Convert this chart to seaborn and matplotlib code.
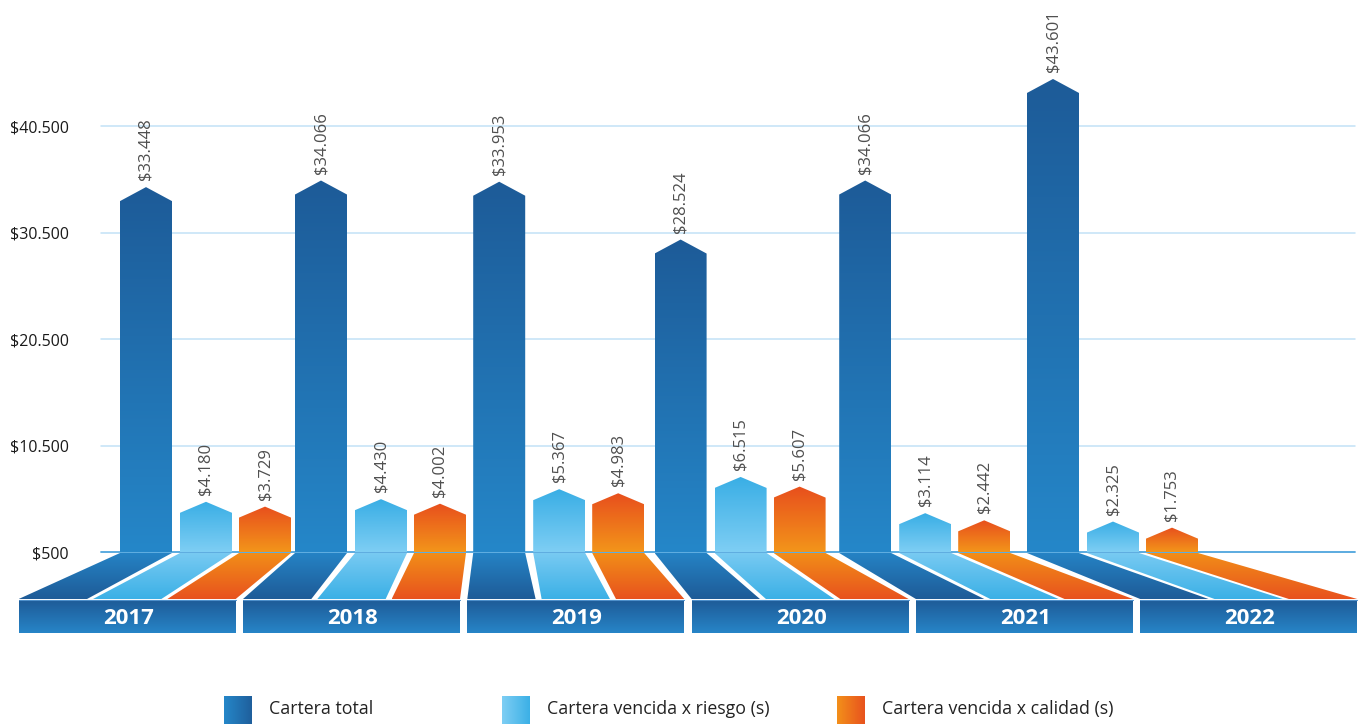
import numpy as np
import matplotlib
matplotlib.use("Agg")
import matplotlib.pyplot as plt
import seaborn as sns
from matplotlib.patches import Polygon
from matplotlib.colors import LinearSegmentedColormap

# ---------------------------------------------------------------- data
years = ["2017", "2018", "2019", "2020", "2021", "2022"]
cartera_total = [33448, 34066, 33953, 28524, 34066, 43601]
vencida_riesgo = [4180, 4430, 5367, 6515, 3114, 2325]
vencida_calidad = [3729, 4002, 4983, 5607, 2442, 1753]
series_names = ["Cartera total", "Cartera vencida x riesgo (s)",
                "Cartera vencida x calidad (s)"]
y_ticks = [500, 10500, 20500, 30500, 40500]

# ---------------------------------------------------------------- style
sns.set_theme(style="white")
plt.rcParams["font.family"] = ["Open Sans", "DejaVu Sans"]

# colours: (bar bottom, bar top), (ribbon bottom, ribbon top), (legend left, right)
bar_grad = [("#2587c9", "#1d5b98"), ("#7ecef4", "#39aee5"), ("#f3951a", "#e84f1d")]
rib_grad = [("#1e5b97", "#2583c5"), ("#3bb0e6", "#78caf2"), ("#e8521e", "#f28e18")]
leg_grad = [("#2587c9", "#1f5f9c"), ("#7ecef4", "#3bb0e6"), ("#f3901a", "#e8521e")]
band_grad = ("#2785c8", "#1e5b97")

W, H, DPI = 1364, 725, 100
fig = plt.figure(figsize=(W / DPI, H / DPI), dpi=DPI)
ax = fig.add_axes([0, 0, 1, 1])

# vertical scale: value units per pixel, baseline row of the chart
PX = 1 / 0.01065
BASE = 500
BASE_ROW = 552


def yv(row):
    """value on the y scale for a given pixel row of the canvas"""
    return BASE + (BASE_ROW - row) * PX


def gradient_poly(verts, c_start, c_end, horizontal=False, z=2):
    poly = Polygon(verts, closed=True, fc="none", ec="none", zorder=z)
    ax.add_patch(poly)
    xs = [v[0] for v in verts]
    ys = [v[1] for v in verts]
    ramp = np.linspace(0, 1, 256)
    arr = ramp.reshape(1, -1) if horizontal else ramp.reshape(-1, 1)
    cmap = LinearSegmentedColormap.from_list("g", [c_start, c_end])
    im = ax.imshow(arr, cmap=cmap, vmin=0, vmax=1, origin="lower",
                   extent=(min(xs), max(xs), min(ys), max(ys)),
                   aspect="auto", interpolation="bilinear", zorder=z)
    im.set_clip_path(poly)


# ---------------------------------------------------------------- layout
bar_w = 52
bar_offsets = [0, 60, 119]
tip_px = [14, 11, 11]
grid_x0, grid_x1 = 101, 1355
band_x0, band_w, band_gap = 18.7, 217, 7.3
seg_gap = 6
floor_bottom = yv(599)
band_top, band_bottom = yv(600), yv(633)

values = [cartera_total, vencida_riesgo, vencida_calidad]

# grid lines and baseline
for t in y_ticks[1:]:
    ax.plot([grid_x0, grid_x1], [t, t], color="#c2e2f7", lw=1.1, zorder=1)
ax.plot([grid_x0, grid_x1], [BASE, BASE], color="#4ea5dd", lw=1.3, zorder=1)

for i, year in enumerate(years):
    group_left = 120 + 175 * i + 1.6 * i * (i - 1)
    b_left = band_x0 + i * (band_w + band_gap)
    seg_w = (band_w - 2 * seg_gap) / 3

    # year band
    gradient_poly([(b_left, band_bottom), (b_left + band_w, band_bottom),
                   (b_left + band_w, band_top), (b_left, band_top)],
                  band_grad[0], band_grad[1], z=3)
    ax.plot([b_left, b_left + band_w], [band_top, band_top],
            color="#4d8fca", lw=0.8, zorder=4)
    ax.text(b_left + band_w / 2 + 1, yv(619), year, color="white",
            fontsize=16, fontweight="bold", ha="center", va="center",
            zorder=5)

    for s in range(3):
        x0 = group_left + bar_offsets[s]
        x1 = x0 + bar_w
        xc = (x0 + x1) / 2
        v = values[s][i]
        tip = v + tip_px[s] * PX

        # arrow-shaped bar
        gradient_poly([(x0, BASE), (x1, BASE), (x1, v), (xc, tip), (x0, v)],
                      bar_grad[s][0], bar_grad[s][1], z=2)

        # floor ribbon from bar base to its slot in the year band
        sx0 = b_left + s * (seg_w + seg_gap)
        sx1 = sx0 + seg_w
        gradient_poly([(sx0, floor_bottom), (sx1, floor_bottom),
                       (x1, BASE - PX), (x0, BASE - PX)],
                      rib_grad[s][0], rib_grad[s][1], z=2)

        # value label
        label = "$" + f"{v:,}".replace(",", ".")
        ax.text(xc, tip + 7 * PX, label, rotation=90, ha="center",
                va="bottom", fontsize=12, color="#4f4f4f", zorder=5)

# legend with gradient swatches
legend_x = [224, 502, 837]
for s, name in enumerate(series_names):
    lx = legend_x[s]
    gradient_poly([(lx, yv(724)), (lx + 28, yv(724)), (lx + 28, yv(696)),
                   (lx, yv(696))], leg_grad[s][0], leg_grad[s][1],
                  horizontal=True, z=3)
    ax.text(lx + 45, yv(709), name, ha="left", va="center", fontsize=12.8,
            color="#222222", zorder=5)

# axes: y ticks drawn inside the canvas
ax.set_xlim(0, W)
ax.set_ylim(yv(H), yv(0))
ax.set_yticks(y_ticks)
ax.set_yticklabels(["$" + f"{t:,}".replace(",", ".") for t in y_ticks])
ax.tick_params(axis="y", length=0, pad=-69 * 72 / DPI, labelsize=11.5,
               labelcolor="#1a1a1a")
for lbl in ax.get_yticklabels():
    lbl.set_horizontalalignment("right")
ax.set_xticks([])
for sp in ax.spines.values():
    sp.set_visible(False)
ax.grid(False)

fig.savefig("out.png", dpi=DPI, facecolor="white")
